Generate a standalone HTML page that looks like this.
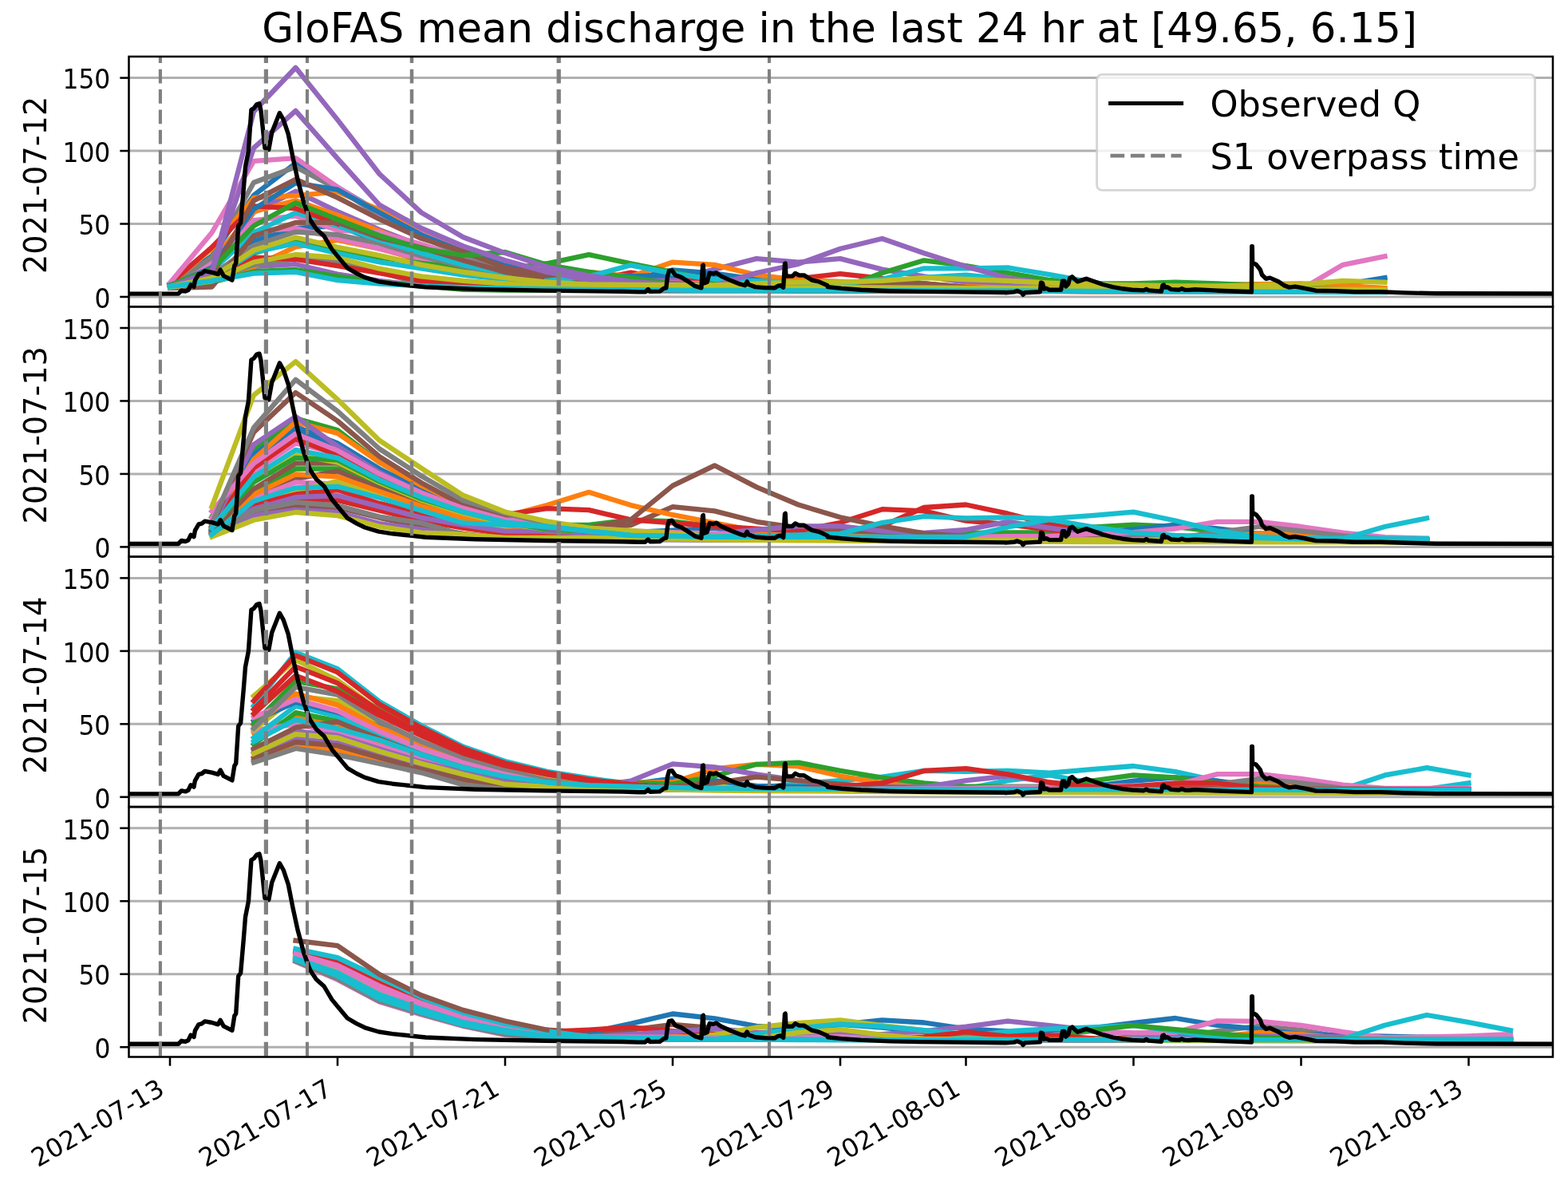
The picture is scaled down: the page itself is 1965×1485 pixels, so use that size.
<!DOCTYPE html>
<html lang="en"><head><meta charset="utf-8"><title>GloFAS mean discharge in the last 24 hr at [49.65, 6.15]</title>
<style>html,body{margin:0;padding:0;background:#fff}body{width:1965px;height:1485px;overflow:hidden}svg{display:block}text{font-family:"DejaVu Sans","Liberation Sans",sans-serif;fill:#000}</style>
</head><body>
<svg width="1965" height="1485" viewBox="0 0 1965 1485">
<rect width="1965" height="1485" fill="#fff"/>
<defs>
<clipPath id="cp0"><rect x="161.50" y="70.90" width="1784.50" height="313.40"/></clipPath>
<clipPath id="cp1"><rect x="161.50" y="384.30" width="1784.50" height="313.40"/></clipPath>
<clipPath id="cp2"><rect x="161.50" y="697.70" width="1784.50" height="313.40"/></clipPath>
<clipPath id="cp3"><rect x="161.50" y="1011.10" width="1784.50" height="313.40"/></clipPath>
</defs>
<g clip-path="url(#cp0)">
<g stroke="#b0b0b0" stroke-width="3">
<line x1="161.5" x2="1946" y1="372.00" y2="372.00"/>
<line x1="161.5" x2="1946" y1="280.53" y2="280.53"/>
<line x1="161.5" x2="1946" y1="189.07" y2="189.07"/>
<line x1="161.5" x2="1946" y1="97.60" y2="97.60"/>
</g>
<g fill="none" stroke-width="6.3" stroke-linejoin="round" stroke-linecap="square">
<polyline stroke="#d62728" points="423,280.5 475.5,298.8 528,315.3 580.5,329.9 633,340.9 685.5,348.2 738,351.9 790.5,341.5 843,350 895.5,352 948,353.7 1000.5,349.1 1053,343.1 1105.5,348.8 1158,355.5 1210.5,360 1263,362.8 1315.5,363.1 1368,363.4 1420.5,363.6 1473,363.7 1525.5,363.8 1578,363.9 1630.5,364 1683,364 1735.5,364.1"/>
<polyline stroke="#9467bd" points="213,360.1 265.5,350 318,334 370.5,331.2 423,343.5 475.5,351.9 528,358 580.5,361.9 633,363.4 685.5,363.6 738,363.7 790.5,363.9 843,364 895.5,364.1 948,364.2 1000.5,364.3 1053,364.4 1105.5,364.4 1158,364.6 1210.5,364.7 1263,364.8 1315.5,364.9 1368,365 1420.5,365.1 1473,365.2 1525.5,365.2 1578,365.3 1630.5,365.4 1683,365.5 1735.5,365.6"/>
<polyline stroke="#1f77b4" points="213,357.4 265.5,328.1 318,301.8 370.5,286 423,283.1 475.5,302.5 528,319 580.5,331.8 633,342.7 685.5,350 738,355.5 790.5,358.5 843,361.2 895.5,362.8 948,363.2 1000.5,363.5 1053,363.7 1105.5,363.8 1158,363.9 1210.5,364 1263,364.1 1315.5,364.2 1368,364.2 1420.5,364.3 1473,364.4 1525.5,364.4 1578,364.5 1630.5,364.6 1683,364.7 1735.5,364.8"/>
<polyline stroke="#ff7f0e" points="213,359.2 265.5,351.9 318,334.1 370.5,309.3 423,301 475.5,311.6 528,326.3 580.5,337.2 633,346.4 685.5,351.9 738,355.5 790.5,358.5 843,361.2 895.5,362.8 948,363.2 1000.5,363.5 1053,363.7 1105.5,363.8 1158,363.9 1210.5,364 1263,364.1 1315.5,364.2 1368,364.2 1420.5,364.3 1473,364.4 1525.5,364.4 1578,364.5 1630.5,364.6 1683,364.7 1735.5,364.8"/>
<polyline stroke="#2ca02c" points="213,360.1 265.5,353.7 318,340.2 370.5,338 423,346.4 475.5,353.7 528,358 580.5,362.8 633,363.7 685.5,363.8 738,363.9 790.5,364 843,364 895.5,364.1 948,364.2 1000.5,364.3 1053,364.4 1105.5,364.4 1158,364.6 1210.5,364.7 1263,364.8 1315.5,364.9 1368,365 1420.5,365.1 1473,365.2 1525.5,365.2 1578,365.3 1630.5,365.4 1683,365.5 1735.5,365.6"/>
<polyline stroke="#9467bd" points="213,359.2 265.5,339.1 318,265.9 370.5,239.7 423,265.2 475.5,287.9 528,308 580.5,324.4 633,337.2 685.5,346.4 738,347.7 790.5,348.9 843,350 895.5,337.6 948,324.1 1000.5,328.6 1053,324.1 1105.5,337.6 1158,346.4 1210.5,353.7 1263,358 1315.5,359.8 1368,361.2 1420.5,362.2 1473,362.9 1525.5,363.5 1578,363.7 1630.5,363.8 1683,364 1735.5,364.1"/>
<polyline stroke="#e377c2" points="213,355.5 265.5,324.4 318,289.9 370.5,286 423,298.8 475.5,311.6 528,324.4 580.5,335.4 633,344.6 685.5,351.9 738,355.5 790.5,358.5 843,361.2 895.5,362.8 948,363 1000.5,363.2 1053,363.3 1105.5,363.5 1158,363.5 1210.5,363.6 1263,363.7 1315.5,363.7 1368,363.8 1420.5,363.8 1473,363.9 1525.5,364 1578,364 1630.5,364 1683,364.1 1735.5,364.1"/>
<polyline stroke="#7f7f7f" points="213,359.2 265.5,350 318,331.8 370.5,324.4 423,327.7 475.5,340.9 528,355.5 580.5,360.9 633,362.8 685.5,363.4 738,363.6 790.5,363.8 843,364 895.5,364.1 948,364.2 1000.5,364.3 1053,364.4 1105.5,364.4 1158,364.6 1210.5,364.7 1263,364.8 1315.5,364.9 1368,365 1420.5,365.1 1473,365.2 1525.5,365.2 1578,365.3 1630.5,365.4 1683,365.5 1735.5,365.6"/>
<polyline stroke="#1f77b4" points="213,357.4 265.5,320.8 318,244.7 370.5,204.6 423,234.8 475.5,265.9 528,291.5 580.5,313.5 633,329.9 685.5,340.9 738,348.2 790.5,350.6 843,338.3 895.5,342.7 948,350 1000.5,352.4 1053,354.6 1105.5,356.5 1158,359.4 1210.5,361.5 1263,362.8 1315.5,363 1368,363.2 1420.5,363.3 1473,363.5 1525.5,363.5 1578,363.6 1630.5,363.7 1683,356.5 1735.5,348.2"/>
<polyline stroke="#ff7f0e" points="213,356.5 265.5,326.3 318,265.2 370.5,251.3 423,269.6 475.5,289.7 528,309.8 580.5,326.3 633,339.1 685.5,348.2 738,353.7 790.5,355.8 843,358.4 895.5,360.9 948,361.6 1000.5,362.2 1053,362.7 1105.5,363.1 1158,363.4 1210.5,363.6 1263,363.7 1315.5,363.7 1368,363.8 1420.5,363.8 1473,363.9 1525.5,364 1578,364 1630.5,364 1683,364.1 1735.5,364.1"/>
<polyline stroke="#2ca02c" points="213,358.3 265.5,346.4 318,317.1 370.5,302.5 423,313.5 475.5,322.6 528,329.9 580.5,335.4 633,337.2 685.5,330.3"/>
<polyline stroke="#d62728" points="213,359.2 265.5,346.4 318,322.6 370.5,325 423,333.2 475.5,342.2 528,351.9 580.5,356.5 633,360.9 685.5,362.8 738,363.7 790.5,363.8 843,364 895.5,364.1 948,364.2 1000.5,364.3 1053,364.4 1105.5,364.4 1158,364.6 1210.5,364.7 1263,364.8 1315.5,364.9 1368,365 1420.5,365.1 1473,365.2 1525.5,365.2 1578,365.3 1630.5,365.4 1683,365.5 1735.5,365.6"/>
<polyline stroke="#e377c2" points="213,355.5 265.5,328.8 318,276.1 370.5,270.7 423,288.6 475.5,291.5 528,306.1 580.5,322.6 633,335.4 685.5,344.6 738,351.9 790.5,353.2 843,354.4 895.5,355.5 948,355.5 1000.5,357.5 1053,359.8 1105.5,361.5 1158,362.7 1210.5,363.4 1263,363.7 1315.5,363.7 1368,363.8 1420.5,363.8 1473,363.9 1525.5,364 1578,364 1630.5,364 1683,364.1 1735.5,364.1"/>
<polyline stroke="#7f7f7f" points="213,357.4 265.5,322.6 318,228.8 370.5,209.2 423,236.6 475.5,269.6 528,297 580.5,319 633,335.4 685.5,346.4 738,353.7 790.5,355.8 843,358.4 895.5,360.9 948,361.6 1000.5,362.2 1053,362.7 1105.5,363.1 1158,363.4 1210.5,363.6 1263,363.7 1315.5,363.7 1368,363.8 1420.5,363.8 1473,363.9 1525.5,364 1578,364 1630.5,364 1683,364.1 1735.5,364.1"/>
<polyline stroke="#7f7f7f" points="213,358.3 265.5,344.6 318,308 370.5,290.6 423,294.1 475.5,305 528,320.8 580.5,333.6 633,344.6 685.5,351.9 738,355.5 790.5,358.5 843,361.2 895.5,362.8 948,363.2 1000.5,363.5 1053,363.7 1105.5,363.8 1158,363.9 1210.5,364 1263,364.1 1315.5,364.2 1368,364.2 1420.5,364.3 1473,364.4 1525.5,364.4 1578,364.5 1630.5,364.6 1683,364.7 1735.5,364.8"/>
<polyline stroke="#17becf" points="213,357.4 265.5,339.1 318,291.5 370.5,266.6 423,283.1 475.5,300.7 528,317.1 580.5,331.8 633,342.7 685.5,351.9"/>
<polyline stroke="#ff7f0e" points="213,355.5 265.5,311.6 318,248 370.5,245.2 423,240.3 475.5,263 528,291.5 580.5,312.9 633,329.9 685.5,339.1 738,340.9 790.5,346.4 843,328.6 895.5,331.9 948,344.6 1000.5,351 1053,353 1105.5,354.7 1158,356.4 1210.5,358.9 1263,360.9 1315.5,360.2 1368,359.5 1420.5,358.7 1473,357.7 1525.5,356.7 1578,356.1 1630.5,355.5 1683,358 1735.5,360.9"/>
<polyline stroke="#d62728" points="213,355.5 265.5,309.8 318,258.4 370.5,261.1 423,280.5"/>
<polyline stroke="#e377c2" points="213,354.6 265.5,291.5 318,201.9 370.5,198.2 423,234.3 475.5,267.7 528,293.3 580.5,315.3 633,331.8 685.5,342.7 738,350 790.5,352.8 843,355.2 895.5,358 948,359.6 1000.5,360.9 1053,361.8 1105.5,362.6 1158,363.2 1210.5,363.5 1263,363.7 1315.5,363.8 1368,363.8 1420.5,363.9 1473,364 1525.5,364.1 1578,364.1 1630.5,362.8 1683,331.8 1735.5,321.3"/>
<polyline stroke="#17becf" points="213,357.4 265.5,349 318,316 370.5,305 423,317.5 475.5,328.5 528,336.3 580.5,344.6 633,350 685.5,353.7 738,358 790.5,360.2 843,361.7 895.5,362.8 948,361.7 1000.5,360 1053,357.6 1105.5,355.5 1158,347.7 1210.5,344.6 1263,350 1315.5,355.2 1368,360.9 1420.5,363 1473,363.7 1525.5,364.1 1578,364.3 1630.5,364.4 1683,364.6 1735.5,364.8"/>
<polyline stroke="#1f77b4" points="213,358.3 265.5,335.4 318,262.2 370.5,229.3 423,237.7 475.5,266.4 528,294.3 580.5,315.3 633,332.9 685.5,342.7 738,346.4 790.5,345.8 843,345.2 895.5,344.6 948,353.7 1000.5,355.2 1053,356.6 1105.5,358.8 1158,360.6 1210.5,361.9 1263,362.8 1315.5,363.1 1368,363.4 1420.5,363.6 1473,363.7 1525.5,363.8 1578,363.9 1630.5,364 1683,364 1735.5,364.1"/>
<polyline stroke="#8c564b" points="213,359.2 265.5,344.6 318,251.4 370.5,224.7 423,247.6 475.5,274.7 528,298.8 580.5,315.3 633,335.4 685.5,344.6 738,350 790.5,352.8 843,355.2 895.5,358 948,357.4 1000.5,356.7 1053,356.3 1105.5,355.9 1158,355.5 1210.5,360 1263,362.8 1315.5,363.1 1368,363.4 1420.5,363.6 1473,363.7 1525.5,363.8 1578,363.9 1630.5,364 1683,364 1735.5,364.1"/>
<polyline stroke="#8c564b" points="213,361 265.5,359.6 318,295.5 370.5,278.9 423,278.9 475.5,297.9 528,310.2 580.5,326.3 633,340.9 685.5,350.6 738,355.5 790.5,358.5 843,361.2 895.5,362.8 948,361.9 1000.5,360.7 1053,359.1 1105.5,357 1158,355.5 1210.5,361.5 1263,363.7 1315.5,363.7 1368,363.8 1420.5,363.8 1473,363.9 1525.5,364 1578,364 1630.5,364 1683,364.1 1735.5,364.1"/>
<polyline stroke="#2ca02c" points="213,357.4 265.5,337.2 318,283.1 370.5,254.2 423,275 475.5,295.2 528,311.6 580.5,320 633,316 685.5,331.8 738,340.9 790.5,348.2 843,355.5 895.5,361.9 948,362.7 1000.5,363.2 1053,363.5 1105.5,363.7 1158,363.7 1210.5,363.7 1263,363.7 1315.5,363.7 1368,363.8 1420.5,363.8 1473,363.9 1525.5,364 1578,364 1630.5,364 1683,364.1 1735.5,364.1"/>
<polyline stroke="#2ca02c" points="685.5,330.3 738,319.1 790.5,330.3 843,340.9 895.5,351.9 948,358 1000.5,361.9 1053,361.9 1105.5,342 1158,326.3 1210.5,333 1263,342 1315.5,351 1368,355.5 1420.5,355.5 1473,353.7 1525.5,355.5 1578,358 1630.5,361.2 1683,363 1735.5,363.7"/>
<polyline stroke="#17becf" points="685.5,351.9 738,346.4 790.5,332.3 843,342.7 895.5,350 948,352.1 1000.5,353.9 1053,355.5 1105.5,350 1158,336.3 1210.5,336.3 1263,335.4 1315.5,344.2 1368,353.7 1420.5,360.9 1473,362.7 1525.5,363.5 1578,363.9 1630.5,364.2 1683,364.4 1735.5,364.8"/>
<polyline stroke="#9467bd" points="213,359.2 265.5,340.9 318,139.7 370.5,84.8 423,150.1 475.5,218 528,266.4 580.5,297.2 633,317.1 685.5,334.5 738,345.5 790.5,352.8 843,356.5 895.5,358.9 948,360.9 1000.5,361.7 1053,362.4 1105.5,362.9 1158,363.3 1210.5,363.5 1263,363.7 1315.5,363.7 1368,363.8 1420.5,363.8 1473,363.9 1525.5,364 1578,364 1630.5,364 1683,364.1 1735.5,364.1"/>
<polyline stroke="#9467bd" points="213,359.2 265.5,340 318,185.4 370.5,138.8 423,198.6 475.5,256.8 528,286 580.5,308.5 633,326.3 685.5,340.9 738,351 790.5,355.5 843,356.5 895.5,358 948,342 1000.5,330.8 1053,311.8 1105.5,299 1158,317.3 1210.5,334.1 1263,348.2 1315.5,355.5 1368,357.6 1420.5,360 1473,361.7 1525.5,362.8 1578,363.5 1630.5,363.7 1683,363.9 1735.5,364.1"/>
<polyline stroke="#bcbd22" points="213,359.2 265.5,348.2 318,313.5 370.5,297.5 423,309.8 475.5,320.2 528,331.8 580.5,340.9 633,348.2 685.5,353.7 738,356.5 790.5,356.8 843,357.1 895.5,357.4 948,355.5 1000.5,353.7 1053,353.7 1105.5,351.9 1158,348.2 1210.5,350 1263,351.9 1315.5,354.6 1368,356.5 1420.5,357.4 1473,358.3 1525.5,358.3 1578,357.4 1630.5,356.5 1683,351.9 1735.5,353.7"/>
<polyline stroke="#bcbd22" points="213,360.1 265.5,352.4 318,328.5 370.5,319 423,323 475.5,336.7 528,346.4 580.5,351.9 633,355.5 685.5,358.3 738,360.1 790.5,360.4 843,360.7 895.5,361 948,360.7 1000.5,360.4 1053,360.1 1105.5,360.3 1158,360.6 1210.5,360.8 1263,361 1315.5,361.3 1368,361.5 1420.5,361.7 1473,361.9 1525.5,362.1 1578,362.3 1630.5,362.5 1683,362.7 1735.5,362.9"/>
<polyline stroke="#17becf" points="213,359.2 265.5,351.9 318,342.7 370.5,340.9 423,351.1 475.5,355.5 528,358.3 580.5,360.1 633,361.4 685.5,362.1 738,362.9 790.5,363.2 843,363.6 895.5,364 948,364 1000.5,364.1 1053,364.1 1105.5,364.2 1158,364.2 1210.5,364.3 1263,364.3 1315.5,364.6 1368,364.9 1420.5,365.2 1473,365.4 1525.5,365.6 1578,365.7 1630.5,365.9 1683,366 1735.5,366.1"/>
</g>
<polyline fill="none" stroke="#000" stroke-width="5.4" stroke-linejoin="round" stroke-linecap="square" points="150,368.1 223.5,368.1 227.4,364.1 232.3,365.1 236,363.5 239.1,356.9 243,359.3 244.4,351.5 248.9,343.6 252.8,342.7 256.7,339.7 265.5,341.3 273.3,343.6 276.2,338.2 280.1,345.6 290.9,351.1 293.8,332.9 295.7,330 298.7,283.1 301.6,279.2 305.5,234.3 307.5,208.9 311.4,189.3 314.9,137.6 318.2,135.6 321.7,130.8 325,129.8 327,138.5 331.9,185.4 336.8,187.4 340.7,165.9 350.4,141.5 355.3,150.3 361.2,167.9 367,197.2 372.9,224.5 380.7,253.8 388.5,275.3 396.3,287 406.1,295.8 415.9,312.4 425.6,324.1 435.4,335.8 447.1,342.7 457.3,347.6 474.6,352.8 491.9,355.4 516.1,358 533.4,359.8 595.7,362.4 682.3,364.1 780,365.3 800,365.9 808.5,365.9 812.2,362.6 814.7,365.4 826.9,365.1 831.8,361.4 834.8,360.8 836.6,346.1 838.5,339.4 842.1,338.8 846.4,344.9 853.7,347.4 863.5,353.5 870.8,358.4 878.9,360.8 880.6,332.7 881.3,332.2 882.2,354.9 886.1,353.5 889.2,342.2 894,343.1 897.7,341.9 903.8,346.1 916,351.6 927,355.9 933.7,357.7 936.2,352.9 938,356.5 946.6,359.6 958.8,360.6 971,360.8 974.7,358.4 978.3,357.7 981.7,360.2 983.5,330.5 984.2,330 985,346.1 993,346.1 996.6,342.5 1001.5,344.9 1007.6,344.9 1017.4,351 1026,352.9 1036.9,357.7 1037.3,359.6 1054.4,361.4 1078.9,363.2 1115.5,364.7 1152.1,365.4 1201,365.9 1259.6,366.5 1260,366.7 1271,365.9 1274.7,364.5 1280.2,366.7 1282,369.3 1284.4,366.7 1303.4,365.7 1304.6,354.1 1306.4,354.7 1308.2,362 1311.3,361.4 1315,363.2 1329.6,363.2 1331.5,352.2 1333.9,352.2 1335.7,359 1338.8,355.9 1340.6,348.6 1343.7,346.8 1346.7,349.8 1350.4,352.9 1357.7,350.4 1361.4,349.2 1366.3,351 1382.1,356.5 1394.4,359.6 1406.6,361.8 1418.8,363.2 1433.4,363.9 1436.5,362.3 1439.5,363.9 1455.4,365.1 1456.9,357.7 1458.5,357.1 1460.3,360.2 1462.7,359.6 1467.6,362.6 1477.4,363.2 1481.1,361.8 1484.7,363.2 1489.6,363.4 1490,363.4 1497.3,362.8 1526.6,364.2 1568.4,365.8 1568.8,308.6 1569.3,308.6 1569.6,328.8 1574.3,331.6 1579.2,337.7 1581.6,344.5 1586.5,349.3 1591.4,348.1 1602.4,353 1609.7,357.9 1615.8,360.1 1623.1,359.1 1636.6,361.6 1648.8,364.2 1673.2,364.6 1697.6,365.8 1730,365.8 1760,366.9 1800,367.8 1960,368.1"/>
<g stroke="#808080" stroke-dasharray="17.7 7.65" stroke-dashoffset="-1">
<line x1="200.9" x2="200.9" y1="384.30" y2="70.90" stroke-width="4.1"/>
<line x1="333.4" x2="333.4" y1="384.30" y2="70.90" stroke-width="5.2"/>
<line x1="385" x2="385" y1="384.30" y2="70.90" stroke-width="4.1"/>
<line x1="516" x2="516" y1="384.30" y2="70.90" stroke-width="4.5"/>
<line x1="700.2" x2="700.2" y1="384.30" y2="70.90" stroke-width="5.3"/>
<line x1="964" x2="964" y1="384.30" y2="70.90" stroke-width="4.1"/>
</g>
</g>
<rect x="161.5" y="70.90" width="1784.5" height="313.40" fill="none" stroke="#000" stroke-width="2.55"/>
<g stroke="#000" stroke-width="2.55">
<line x1="150.3" x2="161.5" y1="372.00" y2="372.00"/>
<line x1="150.3" x2="161.5" y1="280.53" y2="280.53"/>
<line x1="150.3" x2="161.5" y1="189.07" y2="189.07"/>
<line x1="150.3" x2="161.5" y1="97.60" y2="97.60"/>
</g>
<g font-size="31.9" text-anchor="end">
<text transform="translate(138.3 385.70) scale(0.982 1.065)">0</text>
<text transform="translate(138.3 294.23) scale(0.982 1.065)">50</text>
<text transform="translate(138.3 202.77) scale(0.982 1.065)">100</text>
<text transform="translate(138.3 111.30) scale(0.982 1.065)">150</text>
</g>
<text font-size="38.25" text-anchor="middle" transform="translate(57.6 231.90) rotate(-90)">2021-07-12</text>
<g clip-path="url(#cp1)">
<g stroke="#b0b0b0" stroke-width="3">
<line x1="161.5" x2="1946" y1="685.40" y2="685.40"/>
<line x1="161.5" x2="1946" y1="593.93" y2="593.93"/>
<line x1="161.5" x2="1946" y1="502.47" y2="502.47"/>
<line x1="161.5" x2="1946" y1="411.00" y2="411.00"/>
</g>
<g fill="none" stroke-width="6.3" stroke-linejoin="round" stroke-linecap="square">
<polyline stroke="#8c564b" points="265.5,670.8 318,643.3 370.5,634.2 423,636 475.5,648.8 528,659.8 580.5,668.9 633,674.4 685.5,675.2 738,675.7 790.5,675.9 843,676.1 895.5,676.3 948,676.3 1000.5,676.4 1053,676.5 1105.5,676.5 1158,676.6 1210.5,676.7 1263,676.7 1315.5,676.8 1368,676.8 1420.5,676.9 1473,676.9 1525.5,677 1578,677 1630.5,677.1 1683,677.1 1735.5,677.2 1788,677.3"/>
<polyline stroke="#2ca02c" points="265.5,663.4 318,615.9 370.5,587.5 423,587.5 475.5,609.8 528,630.5 580.5,645.2 633,656.1 685.5,663.4 738,666.2 790.5,668.6 843,672.1 895.5,674.4 948,675 1000.5,675.4 1053,675.7 1105.5,675.9 1158,676 1210.5,676.1 1263,676.3 1315.5,676.3 1368,676.3 1420.5,676.4 1473,676.5 1525.5,676.5 1578,676.5 1630.5,676.6 1683,676.6 1735.5,676.7 1788,676.7"/>
<polyline stroke="#d62728" points="265.5,668.9 318,639.7 370.5,625.9 423,626.9 475.5,639.7 528,652.5 580.5,661.6 633,668.9 685.5,671.3 738,673 790.5,674.3 843,675.2 895.5,675.8 948,673.5 1000.5,668.5 1053,664.5 1105.5,659.4 1158,636 1210.5,632.5 1263,643.7 1315.5,657.2 1368,665.3 1420.5,672.1 1473,673.9 1525.5,675.1 1578,675.8 1630.5,676.1 1683,676.3 1735.5,676.5 1788,676.7"/>
<polyline stroke="#9467bd" points="265.5,670.8 318,646.1 370.5,638.8 423,642 475.5,656.1 528,663.4 580.5,672.1 633,675.2 685.5,675.6 738,675.9 790.5,676 843,676.1 895.5,676.3 948,676.3 1000.5,676.4 1053,676.5 1105.5,676.5 1158,676.6 1210.5,676.7 1263,676.7 1315.5,676.8 1368,676.8 1420.5,676.9 1473,676.9 1525.5,677 1578,677 1630.5,677.1 1683,677.1 1735.5,677.2 1788,677.3"/>
<polyline stroke="#8c564b" points="265.5,667.1 318,623.2 370.5,600.2 423,590.3 475.5,612.2 528,632.4 580.5,647 633,658 685.5,665.3 738,667.4 790.5,669.7 843,672.6 895.5,674.4 948,675 1000.5,675.4 1053,675.7 1105.5,675.9 1158,676 1210.5,676.1 1263,676.3 1315.5,676.3 1368,676.3 1420.5,676.4 1473,676.5 1525.5,676.5 1578,676.5 1630.5,676.6 1683,676.6 1735.5,676.7 1788,676.7"/>
<polyline stroke="#e377c2" points="265.5,665.3 318,625 370.5,604.4 423,606.7 475.5,623.2 528,639.7 580.5,652.5 633,661.6 685.5,667.1 738,668.7 790.5,671.1 843,673 895.5,674.4 948,675 1000.5,675.4 1053,675.7 1105.5,675.9 1158,676 1210.5,676.1 1263,676.3 1315.5,676.3 1368,676.3 1420.5,676.4 1473,676.5 1525.5,676.5 1578,676.5 1630.5,676.6 1683,676.6 1735.5,676.7 1788,676.7"/>
<polyline stroke="#bcbd22" points="265.5,668.9 318,634.9 370.5,615.9 423,603.1 475.5,618.6 528,636 580.5,650.6 633,659.8 685.5,667.1 738,669.6 790.5,672.8 843,674.7 895.5,675.8 948,675.9 1000.5,676 1053,676.1 1105.5,676.2 1158,676.3 1210.5,676.4 1263,676.5 1315.5,676.5 1368,676.6 1420.5,676.6 1473,676.7 1525.5,676.7 1578,676.8 1630.5,676.9 1683,677.1 1735.5,677.2 1788,677.3"/>
<polyline stroke="#1f77b4" points="265.5,663.4 318,575.6 370.5,540.9 423,561 475.5,592.1 528,617.7 580.5,637.8 633,652.5 685.5,661.6 738,667.1 790.5,669.4 843,672.4 895.5,674.4 948,675 1000.5,675.4 1053,675.7 1105.5,675.9 1158,676 1210.5,676.1 1263,676.3 1315.5,676.3 1368,676.3 1420.5,676.4 1473,676.5 1525.5,676.5 1578,676.5 1630.5,676.6 1683,676.6 1735.5,676.7 1788,676.7"/>
<polyline stroke="#ff7f0e" points="265.5,667.1 318,619.5 370.5,594.5 423,597.4 475.5,615.9 528,634.2 580.5,648.8 633,658 685.5,665.3 738,667.4 790.5,669.7 843,672.6 895.5,674.4 948,675 1000.5,675.4 1053,675.7 1105.5,675.9 1158,676 1210.5,676.1 1263,676.3 1315.5,676.3 1368,676.3 1420.5,676.4 1473,676.5 1525.5,676.5 1578,676.5 1630.5,676.6 1683,676.6 1735.5,676.7 1788,676.7"/>
<polyline stroke="#2ca02c" points="265.5,647.5 318,564.7 370.5,524.4 423,539.1 475.5,579.3 528,608.6 580.5,632.4 633,648.8 685.5,658 738,658 790.5,651.4 843,653.4 895.5,659.8 948,663.3 1000.5,666.3 1053,668.9 1105.5,668.6 1158,668.2 1210.5,667.9 1263,667.5 1315.5,667.1 1368,660.7 1420.5,657.6 1473,660 1525.5,666.4 1578,668.9 1630.5,673.7 1683,675.8 1735.5,676.3 1788,676.7"/>
<polyline stroke="#d62728" points="265.5,668.9 318,632.4 370.5,619.5 423,614.1 475.5,630.9 528,643.3 580.5,659.8 633,667.1 685.5,672.1 738,673.5 790.5,674.6 843,675.3 895.5,675.8 948,675.9 1000.5,675.9 1053,676 1105.5,676.1 1158,676.1 1210.5,676.2 1263,676.3 1315.5,676.3 1368,676.3 1420.5,676.4 1473,676.5 1525.5,676.5 1578,676.5 1630.5,676.6 1683,676.6 1735.5,676.7 1788,676.7"/>
<polyline stroke="#9467bd" points="265.5,667.1 318,637.8 370.5,623.2 423,621 475.5,634.9 528,648.8 580.5,658 633,665.6 685.5,665.6 738,668.9 790.5,672.5 843,674.7 895.5,675.8 948,675.9 1000.5,675.9 1053,676 1105.5,676.1 1158,676.1 1210.5,676.2 1263,676.3 1315.5,676.3 1368,676.3 1420.5,676.4 1473,676.5 1525.5,676.5 1578,676.5 1630.5,676.6 1683,676.6 1735.5,676.7 1788,676.7"/>
<polyline stroke="#8c564b" points="265.5,665.3 318,612.6 370.5,580.6 423,580.6 475.5,604.9 528,625 580.5,641.5 633,654.3 685.5,661.6 738,663.4 790.5,658 843,635.1 895.5,640.4 948,653.8 1000.5,661.6 1053,664 1105.5,667.1 1158,670.9 1210.5,674.2 1263,675.8 1315.5,675.9 1368,676 1420.5,676.1 1473,676.2 1525.5,676.3 1578,676.4 1630.5,676.5 1683,676.6 1735.5,676.6 1788,676.7"/>
<polyline stroke="#e377c2" points="265.5,648.8 318,590.3 370.5,555.5 423,568.1 475.5,595.8 528,619.5 580.5,637.8 633,652.5 685.5,659.8 738,665.3 790.5,667.3 843,669.3 895.5,672.1 948,673 1000.5,673.7 1053,674.3 1105.5,674.8 1158,675.2 1210.5,675.5 1263,675.8 1315.5,675.9 1368,675.9 1420.5,675.9 1473,676 1525.5,676 1578,676.1 1630.5,676.1 1683,676.2 1735.5,676.2 1788,676.3"/>
<polyline stroke="#7f7f7f" points="265.5,668.9 318,639.9 370.5,629.4 423,633.6 475.5,647.5 528,655.4 580.5,670.3 633,674.4 685.5,675.2 738,675.7 790.5,675.9 843,676.1 895.5,676.3 948,676.3 1000.5,676.4 1053,676.5 1105.5,676.5 1158,676.6 1210.5,676.7 1263,676.7 1315.5,676.8 1368,676.8 1420.5,676.9 1473,676.9 1525.5,677 1578,677 1630.5,677.1 1683,677.1 1735.5,677.2 1788,677.3"/>
<polyline stroke="#bcbd22" points="265.5,661.6 318,601.3 370.5,570.2 423,579.3 475.5,604.9 528,626.9 580.5,643.3 633,656.1 685.5,663.4 738,666.2 790.5,668.6 843,672.1 895.5,674.4 948,675 1000.5,675.4 1053,675.7 1105.5,675.9 1158,676 1210.5,676.1 1263,676.3 1315.5,676.3 1368,676.4 1420.5,676.5 1473,676.6 1525.5,676.6 1578,676.7 1630.5,676.8 1683,677 1735.5,677.1 1788,677.3"/>
<polyline stroke="#1f77b4" points="265.5,663.4 318,569.2 370.5,534.7 423,555.5 475.5,587.5 528,614.1 580.5,636 633,650.6 685.5,659.8 738,665.3 790.5,667.1 843,664.7 895.5,661.6 948,667.1 1000.5,668.6 1053,670.9 1105.5,672.8 1158,674.2 1210.5,675.2 1263,675.8 1315.5,673.3 1368,668 1420.5,663.4 1473,657.6 1525.5,662.5 1578,668.9 1630.5,673.7 1683,675.8 1735.5,676.3 1788,676.7"/>
<polyline stroke="#ff7f0e" points="265.5,661.6 318,575.6 370.5,529 423,542.9 475.5,579.3 528,608.6 580.5,632.4 633,647 685.5,633.1 738,616.8 790.5,633.1 843,645.2 895.5,655.4 948,665.3 1000.5,668.9 1053,671.3 1105.5,673 1158,674.3 1210.5,675.2 1263,675.8 1315.5,675.4 1368,674.9 1420.5,674.2 1473,673.3 1525.5,672.1 1578,668.2 1630.5,668.2 1683,674.4 1735.5,676.1 1788,676.7"/>
<polyline stroke="#2ca02c" points="265.5,659.8 318,604.4 370.5,573.8 423,576.4 475.5,603.1 528,625 580.5,641.5 633,654.3 685.5,663.4 738,666.2 790.5,668.6 843,672.1 895.5,674.4 948,675 1000.5,675.4 1053,675.7 1105.5,675.9 1158,676 1210.5,676.1 1263,676.3 1315.5,676.3 1368,676.3 1420.5,676.4 1473,676.5 1525.5,676.5 1578,676.5 1630.5,676.6 1683,676.6 1735.5,676.7 1788,676.7"/>
<polyline stroke="#d62728" points="265.5,659.8 318,586.3 370.5,550 423,570.2 475.5,599.4 528,623.2 580.5,639.7 633,645.2 685.5,637.1 738,639.1 790.5,651.4 843,655.4 895.5,659.4 948,662.7 1000.5,665.3 1053,655 1105.5,638.2 1158,640.4 1210.5,652.7 1263,657.2 1315.5,664 1368,668.9 1420.5,671.8 1473,673.7 1525.5,675 1578,675.8 1630.5,676.1 1683,676.3 1735.5,676.5 1788,676.7"/>
<polyline stroke="#9467bd" points="265.5,659.8 318,557 370.5,522 423,559.2 475.5,592.1 528,617.7 580.5,637.8 633,652.5 685.5,661.6 738,665.6 790.5,666.8 843,667.9 895.5,668.9 948,664 1000.5,659.4 1053,659.4 1105.5,665.3 1158,668 1210.5,664 1263,653.8 1315.5,661.6 1368,668.9 1420.5,671.8 1473,673.7 1525.5,675 1578,675.8 1630.5,676.1 1683,676.3 1735.5,676.5 1788,676.7"/>
<polyline stroke="#8c564b" points="265.5,658 318,541.6 370.5,492 423,527.5 475.5,572.2 528,604.9 580.5,633.1 633,648.8 685.5,658 738,661.6 790.5,651.4 843,608.6 895.5,583.3 948,610.4 1000.5,632.5 1053,648.3 1105.5,659.4 1158,668.4 1210.5,672.1 1263,673.4 1315.5,674.4 1368,675.1 1420.5,675.6 1473,675.9 1525.5,676 1578,676.2 1630.5,676.3 1683,676.5 1735.5,676.6 1788,676.7"/>
<polyline stroke="#e377c2" points="265.5,640.6 318,580.6 370.5,543.6 423,564.7 475.5,593.9 528,617.7 580.5,636.9 633,651.4 685.5,655.4 738,661.6 790.5,665.3 843,667.1 895.5,668.7 948,671.1 1000.5,673 1053,674.4 1105.5,674 1158,673.4 1210.5,672.8 1263,672.1 1315.5,672.1 1368,669.1 1420.5,667.1 1473,662.5 1525.5,653.8 1578,653.8 1630.5,660 1683,667.7 1735.5,673.2 1788,674.6"/>
<polyline stroke="#7f7f7f" points="265.5,656.1 318,535.9 370.5,475.8 423,515.3 475.5,562.5 528,596.5 580.5,626.9 633,643.3 685.5,656.1 738,663.4 790.5,666.2 843,668.6 895.5,672.1 948,673.4 1000.5,674.4 1053,675.2 1105.5,675.7 1158,675.9 1210.5,676.1 1263,676.3 1315.5,676.1 1368,675.8 1420.5,675.3 1473,674.4 1525.5,667.1 1578,660 1630.5,665.3 1683,671.3 1735.5,675.3 1788,676.3"/>
<polyline stroke="#bcbd22" points="265.5,634.9 318,495.2 370.5,453.1 423,500.6 475.5,551.9 528,586.6 580.5,620.8 633,641.5 685.5,653.4 738,661.6 790.5,665.2 843,668.2 895.5,672.1 948,673.4 1000.5,674.4 1053,675.2 1105.5,675.7 1158,675.9 1210.5,676.1 1263,676.3 1315.5,676.3 1368,676.4 1420.5,676.5 1473,676.6 1525.5,676.7 1578,676.7 1630.5,676.9 1683,677.1 1735.5,677.2 1788,677.4"/>
<polyline stroke="#bcbd22" points="265.5,672.6 318,651.7 370.5,642 423,646.1 475.5,659.8 528,667.7 580.5,669.7 633,673.9 685.5,673.9 738,673.9 790.5,674.7 843,675.5 895.5,676.3 948,676.8 1000.5,677.3 1053,677.7 1105.5,678 1158,678.3 1210.5,678.6 1263,678.8 1315.5,678.9 1368,679 1420.5,679 1473,679.1 1525.5,679.2 1578,679.3 1630.5,679.3 1683,679.4 1735.5,679.5 1788,679.5"/>
<polyline stroke="#17becf" points="265.5,661.6 318,597.4 370.5,563.9 423,573.8 475.5,601.3 528,623.2 580.5,641.5 633,654.3 685.5,659.8 738,665.6 790.5,670.8 843,671.7 895.5,672.6 948,671.5 1000.5,670.3 1053,668.9 1105.5,655 1158,647.2 1210.5,649.4 1263,648.3 1315.5,649.9 1368,646.1 1420.5,641.7 1473,652.5 1525.5,665.3 1578,672.6 1630.5,674.4 1683,674.7 1735.5,674.9 1788,675.2"/>
<polyline stroke="#17becf" points="265.5,669.9 318,628 370.5,611.3 423,609.8 475.5,623.8 528,639.7 580.5,655.4 633,657.6 685.5,659.8 738,665.6 790.5,670.8 843,671.8 895.5,672.8 948,672.8 1000.5,672.8 1053,672.8 1105.5,672.8 1158,672.8 1210.5,672.8 1263,660.5 1315.5,651.2 1368,660 1420.5,667.7 1473,670.8 1525.5,672.5 1578,674 1630.5,675.3 1683,675.3 1735.5,660 1788,649.4"/>
</g>
<polyline fill="none" stroke="#000" stroke-width="5.4" stroke-linejoin="round" stroke-linecap="square" points="150,681.5 223.5,681.5 227.4,677.5 232.3,678.5 236,676.9 239.1,670.3 243,672.7 244.4,664.9 248.9,657 252.8,656.1 256.7,653.1 265.5,654.7 273.3,657 276.2,651.6 280.1,659 290.9,664.5 293.8,646.3 295.7,643.4 298.7,596.5 301.6,592.6 305.5,547.7 307.5,522.3 311.4,502.7 314.9,451 318.2,449 321.7,444.2 325,443.2 327,451.9 331.9,498.8 336.8,500.8 340.7,479.3 350.4,454.9 355.3,463.7 361.2,481.3 367,510.6 372.9,537.9 380.7,567.2 388.5,588.7 396.3,600.4 406.1,609.2 415.9,625.8 425.6,637.5 435.4,649.2 447.1,656.1 457.3,661 474.6,666.2 491.9,668.8 516.1,671.4 533.4,673.2 595.7,675.8 682.3,677.5 780,678.7 800,679.3 808.5,679.3 812.2,676 814.7,678.8 826.9,678.5 831.8,674.8 834.8,674.2 836.6,659.5 838.5,652.8 842.1,652.2 846.4,658.3 853.7,660.8 863.5,666.9 870.8,671.8 878.9,674.2 880.6,646.1 881.3,645.6 882.2,668.3 886.1,666.9 889.2,655.6 894,656.5 897.7,655.3 903.8,659.5 916,665 927,669.3 933.7,671.1 936.2,666.3 938,669.9 946.6,673 958.8,674 971,674.2 974.7,671.8 978.3,671.1 981.7,673.6 983.5,643.9 984.2,643.4 985,659.5 993,659.5 996.6,655.9 1001.5,658.3 1007.6,658.3 1017.4,664.4 1026,666.3 1036.9,671.1 1037.3,673 1054.4,674.8 1078.9,676.6 1115.5,678.1 1152.1,678.8 1201,679.3 1259.6,679.9 1260,680.1 1271,679.3 1274.7,677.9 1280.2,680.1 1282,682.7 1284.4,680.1 1303.4,679.1 1304.6,667.5 1306.4,668.1 1308.2,675.4 1311.3,674.8 1315,676.6 1329.6,676.6 1331.5,665.6 1333.9,665.6 1335.7,672.4 1338.8,669.3 1340.6,662 1343.7,660.2 1346.7,663.2 1350.4,666.3 1357.7,663.8 1361.4,662.6 1366.3,664.4 1382.1,669.9 1394.4,673 1406.6,675.2 1418.8,676.6 1433.4,677.3 1436.5,675.7 1439.5,677.3 1455.4,678.5 1456.9,671.1 1458.5,670.5 1460.3,673.6 1462.7,673 1467.6,676 1477.4,676.6 1481.1,675.2 1484.7,676.6 1489.6,676.8 1490,676.8 1497.3,676.2 1526.6,677.6 1568.4,679.2 1568.8,622 1569.3,622 1569.6,642.2 1574.3,645 1579.2,651.1 1581.6,657.9 1586.5,662.7 1591.4,661.5 1602.4,666.4 1609.7,671.3 1615.8,673.5 1623.1,672.5 1636.6,675 1648.8,677.6 1673.2,678 1697.6,679.2 1730,679.2 1760,680.3 1800,681.2 1960,681.5"/>
<g stroke="#808080" stroke-dasharray="17.7 7.65" stroke-dashoffset="-1">
<line x1="200.9" x2="200.9" y1="697.70" y2="384.30" stroke-width="4.1"/>
<line x1="333.4" x2="333.4" y1="697.70" y2="384.30" stroke-width="5.2"/>
<line x1="385" x2="385" y1="697.70" y2="384.30" stroke-width="4.1"/>
<line x1="516" x2="516" y1="697.70" y2="384.30" stroke-width="4.5"/>
<line x1="700.2" x2="700.2" y1="697.70" y2="384.30" stroke-width="5.3"/>
<line x1="964" x2="964" y1="697.70" y2="384.30" stroke-width="4.1"/>
</g>
</g>
<rect x="161.5" y="384.30" width="1784.5" height="313.40" fill="none" stroke="#000" stroke-width="2.55"/>
<g stroke="#000" stroke-width="2.55">
<line x1="150.3" x2="161.5" y1="685.40" y2="685.40"/>
<line x1="150.3" x2="161.5" y1="593.93" y2="593.93"/>
<line x1="150.3" x2="161.5" y1="502.47" y2="502.47"/>
<line x1="150.3" x2="161.5" y1="411.00" y2="411.00"/>
</g>
<g font-size="31.9" text-anchor="end">
<text transform="translate(138.3 699.10) scale(0.982 1.065)">0</text>
<text transform="translate(138.3 607.63) scale(0.982 1.065)">50</text>
<text transform="translate(138.3 516.17) scale(0.982 1.065)">100</text>
<text transform="translate(138.3 424.70) scale(0.982 1.065)">150</text>
</g>
<text font-size="38.25" text-anchor="middle" transform="translate(57.6 545.30) rotate(-90)">2021-07-13</text>
<g clip-path="url(#cp2)">
<g stroke="#b0b0b0" stroke-width="3">
<line x1="161.5" x2="1946" y1="998.80" y2="998.80"/>
<line x1="161.5" x2="1946" y1="907.33" y2="907.33"/>
<line x1="161.5" x2="1946" y1="815.87" y2="815.87"/>
<line x1="161.5" x2="1946" y1="724.40" y2="724.40"/>
</g>
<g fill="none" stroke-width="6.3" stroke-linejoin="round" stroke-linecap="square">
<polyline stroke="#ff7f0e" points="318,953.1 370.5,934.8 423,940.3 475.5,953.1 528,965.9 580.5,978.7 633,986.9 685.5,988.9 738,989 790.5,989.2 843,989.3 895.5,989.4 948,989.5 1000.5,989.5 1053,989.6 1105.5,989.7 1158,989.7 1210.5,989.8 1263,989.9 1315.5,990.1 1368,990.2 1420.5,990.3 1473,990.5 1525.5,990.6 1578,990.7 1630.5,990.9 1683,991 1735.5,991.2 1788,991.3 1840.5,991.5"/>
<polyline stroke="#ff7f0e" points="318,918.3 370.5,899.1 423,909.2 475.5,929.3 528,947.6 580.5,962.2 633,973.2 685.5,980.5 738,985.7 790.5,987.3 843,988.4 895.5,988.9 948,989 1000.5,989.1 1053,989.1 1105.5,989.2 1158,989.3 1210.5,989.3 1263,989.4 1315.5,989.4 1368,989.5 1420.5,989.5 1473,989.6 1525.5,989.6 1578,989.6 1630.5,989.7 1683,989.7 1735.5,989.8 1788,989.9 1840.5,989.9"/>
<polyline stroke="#2ca02c" points="318,932.9 370.5,893.2 423,903.7 475.5,923.8 528,943.9 580.5,960.4 633,971.4 685.5,980.5 738,985.7 790.5,987.3 843,988.4 895.5,988.9 948,989 1000.5,989.1 1053,989.1 1105.5,989.2 1158,989.3 1210.5,989.3 1263,989.4 1315.5,989.4 1368,989.5 1420.5,989.5 1473,989.6 1525.5,989.6 1578,989.6 1630.5,989.7 1683,989.7 1735.5,989.8 1788,989.9 1840.5,989.9"/>
<polyline stroke="#9467bd" points="318,943.9 370.5,925.6 423,931.1 475.5,947.6 528,962.2 580.5,973.2 633,982.7 685.5,987.8 738,988.6 790.5,989 843,989.2 895.5,989.4 948,989.5 1000.5,989.5 1053,989.6 1105.5,989.7 1158,989.7 1210.5,989.8 1263,989.9 1315.5,990.1 1368,990.2 1420.5,990.3 1473,990.5 1525.5,990.6 1578,990.7 1630.5,990.9 1683,991 1735.5,991.2 1788,991.3 1840.5,991.5"/>
<polyline stroke="#8c564b" points="318,950 370.5,930 423,934.4 475.5,949.4 528,964 580.5,976.8 633,985.7 685.5,988.5 738,988.9 790.5,989 843,989.2 895.5,989.4 948,989.5 1000.5,989.5 1053,989.6 1105.5,989.7 1158,989.7 1210.5,989.8 1263,989.9 1315.5,990.1 1368,990.2 1420.5,990.3 1473,990.5 1525.5,990.6 1578,990.7 1630.5,990.9 1683,991 1735.5,991.2 1788,991.3 1840.5,991.5"/>
<polyline stroke="#e377c2" points="318,915.9 370.5,907.3 423,918.3 475.5,934.8 528,951.2 580.5,965.9 633,975 685.5,982.7 738,987.8 790.5,988.3 843,988.7 895.5,988.9 948,989 1000.5,989.1 1053,989.1 1105.5,989.2 1158,989.3 1210.5,989.3 1263,989.4 1315.5,989.4 1368,989.5 1420.5,989.5 1473,989.6 1525.5,989.6 1578,989.6 1630.5,989.7 1683,989.7 1735.5,989.8 1788,989.9 1840.5,989.9"/>
<polyline stroke="#7f7f7f" points="318,955.6 370.5,937.9 423,945.8 475.5,956.9 528,968.3 580.5,983.4 633,989.1 685.5,989.4 738,989.5 790.5,989.6 843,989.7 895.5,989.9 948,990 1000.5,990.1 1053,990.2 1105.5,990.3 1158,990.4 1210.5,990.5 1263,990.6 1315.5,990.7 1368,990.8 1420.5,990.8 1473,990.9 1525.5,991 1578,991.1 1630.5,991.2 1683,991.2 1735.5,991.3 1788,991.4 1840.5,991.5"/>
<polyline stroke="#bcbd22" points="318,914.7 370.5,872.6 423,878.1 475.5,907.3 528,931.1 580.5,951.2 633,965.9 685.5,975 738,980.5 790.5,985.7 843,981.8 895.5,985.7 948,986.9 1000.5,987.8 1053,988.5 1105.5,988.9 1158,989 1210.5,989.2 1263,989.4 1315.5,989.5 1368,989.6 1420.5,989.7 1473,989.8 1525.5,990 1578,990.2 1630.5,990.4 1683,990.7 1735.5,991 1788,991.2 1840.5,991.5"/>
<polyline stroke="#17becf" points="318,884.5 370.5,817.7 423,838.2 475.5,879.2 528,909.2 580.5,935.7 633,954 685.5,966.8 738,975 790.5,982.7 843,987.2 895.5,988.9 948,987.1 1000.5,982.2 1053,978.1 1105.5,973.6 1158,965.9 1210.5,966.8 1263,965.9 1315.5,968.6 1368,964.2 1420.5,960 1473,967.2 1525.5,978.7 1578,987.8 1630.5,988.8 1683,989.1 1735.5,971.4 1788,962.2 1840.5,971.4"/>
<polyline stroke="#17becf" points="318,924.5 370.5,884.8 423,897.6 475.5,922 528,940.3 580.5,960.4 633,975 685.5,983.4 738,987.8 790.5,988.4 843,988.8 895.5,989 948,989 1000.5,989 1053,989 1105.5,989 1158,989 1210.5,988.5 1263,978.1 1315.5,971.4 1368,981.4 1420.5,987.8 1473,988.5 1525.5,988.9 1578,989 1630.5,989.2 1683,989.4 1735.5,989.2 1788,988.9 1840.5,981.4"/>
<polyline stroke="#1f77b4" points="318,903.7 370.5,879.9 423,892.7 475.5,910.1 528,934.8 580.5,953.1 633,967.7 685.5,976.8 738,982.7 790.5,982.7 843,975.6 895.5,978.1 948,984.9 1000.5,986 1053,987 1105.5,987.7 1158,988.3 1210.5,988.7 1263,988.9 1315.5,987.9 1368,985.7 1420.5,978.7 1473,974.3 1525.5,978.7 1578,985.7 1630.5,987.9 1683,988.9 1735.5,989.3 1788,989.6 1840.5,989.9"/>
<polyline stroke="#ff7f0e" points="318,909.2 370.5,869.3 423,883.6 475.5,911.7 528,931.8 580.5,951.2 633,965.9 685.5,975 738,980.5 790.5,980.5 843,980.5 895.5,963.5 948,957.8 1000.5,960.4 1053,972.5 1105.5,981.4 1158,985.3 1210.5,987.8 1263,988.9 1315.5,988.7 1368,988.2 1420.5,987.6 1473,986.8 1525.5,985.7 1578,981.4 1630.5,985.7 1683,988.2 1735.5,989.1 1788,989.5 1840.5,989.9"/>
<polyline stroke="#2ca02c" points="318,907.3 370.5,853.7 423,863.4 475.5,888.1 528,918.3 580.5,943.9 633,960.4 685.5,971.4 738,978.7 790.5,980.6 843,982.7 895.5,972.5 948,957.8 1000.5,955.6 1053,965.9 1105.5,974.7 1158,981.4 1210.5,985.7 1263,985.7 1315.5,985.7 1368,978.7 1420.5,971.4 1473,974.3 1525.5,981.4 1578,985.7 1630.5,987.9 1683,988.9 1735.5,989.3 1788,989.6 1840.5,989.9"/>
<polyline stroke="#9467bd" points="318,940.3 370.5,916.5 423,922 475.5,938.4 528,954.9 580.5,967.7 633,976.8 685.5,982.7 738,985.7 790.5,978.7 843,957.3 895.5,961.3 948,970.3 1000.5,978.1 1053,985.7 1105.5,986.1 1158,986.4 1210.5,978.1 1263,972.5 1315.5,980.5 1368,987.8 1420.5,988.7 1473,989 1525.5,989.3 1578,989.5 1630.5,989.7 1683,990 1735.5,990.4 1788,991 1840.5,991.5"/>
<polyline stroke="#8c564b" points="318,938.4 370.5,911.7 423,904.6 475.5,925.6 528,945.8 580.5,962.2 633,973.2 685.5,980.5 738,985.7 790.5,985.7 843,985.7 895.5,981.4 948,973.6 1000.5,978.1 1053,982.7 1105.5,986.3 1158,988.2 1210.5,989 1263,989.4 1315.5,989.4 1368,989.5 1420.5,989.5 1473,989.6 1525.5,989.6 1578,989.6 1630.5,989.7 1683,989.7 1735.5,989.8 1788,989.9 1840.5,989.9"/>
<polyline stroke="#e377c2" points="318,898.9 370.5,876.4 423,890.9 475.5,916.5 528,938.4 580.5,954.9 633,967.7 685.5,976.8 738,982.7 790.5,986 843,988 895.5,988.9 948,988.8 1000.5,988.7 1053,988.5 1105.5,988.3 1158,988.1 1210.5,987.8 1263,986.4 1315.5,986.4 1368,985.6 1420.5,984.7 1473,983.7 1525.5,970.1 1578,970.1 1630.5,975.8 1683,983.7 1735.5,987.8 1788,987.8 1840.5,987.5"/>
<polyline stroke="#7f7f7f" points="318,912.8 370.5,860.9 423,870.7 475.5,903.7 528,929.3 580.5,949.4 633,964 685.5,975 738,980.5 790.5,984.5 843,987.6 895.5,988.9 948,989 1000.5,989.1 1053,989.1 1105.5,989.2 1158,989.3 1210.5,989.3 1263,989.4 1315.5,989.1 1368,988.7 1420.5,987.6 1473,985.7 1525.5,982.7 1578,975.8 1630.5,981.4 1683,987.8 1735.5,989 1788,989.5 1840.5,989.9"/>
<polyline stroke="#bcbd22" points="318,872.2 370.5,826.8 423,852.5 475.5,890.9 528,918.3 580.5,942.1 633,958.6 685.5,971.4 738,978.7 790.5,982.7 843,987.2 895.5,988.9 948,989.1 1000.5,989.2 1053,989.4 1105.5,989.5 1158,989.6 1210.5,989.7 1263,989.9 1315.5,990.1 1368,990.3 1420.5,990.6 1473,990.8 1525.5,991.1 1578,991.3 1630.5,991.6 1683,991.8 1735.5,992.1 1788,992.4 1840.5,992.6"/>
<polyline stroke="#d62728" points="318,878.4 370.5,821.4 423,842.4 475.5,882.6 528,911.9 580.5,937.9 633,956.2 685.5,968.4 738,976.8 790.5,983.4 843,987.3 895.5,988.9 948,988.4 1000.5,987.3 1053,985.7 1105.5,981.4 1158,965.9 1210.5,963.1 1263,970.3 1315.5,980.5 1368,985.7 1420.5,987.1 1473,988 1525.5,988.7 1578,989 1630.5,989.2 1683,989.4 1735.5,989.5 1788,989.7 1840.5,989.9"/>
<polyline stroke="#d62728" points="318,889 370.5,835.4 423,856.1 475.5,890.9 528,918.3 580.5,941.2 633,957.6 685.5,969.5 738,977.8 790.5,983.4 843,987.3 895.5,988.9 948,989 1000.5,989.1 1053,989.1 1105.5,989.2 1158,989.3 1210.5,989.3 1263,989.4 1315.5,989.4 1368,989.5 1420.5,989.5 1473,989.6 1525.5,989.6 1578,989.6 1630.5,989.7 1683,989.7 1735.5,989.8 1788,989.9 1840.5,989.9"/>
<polyline stroke="#d62728" points="318,894.5 370.5,846.6 423,866.5 475.5,896.4 528,922 580.5,943.9 633,959.5 685.5,970.4 738,978.7 790.5,982.7 843,987.2 895.5,988.9 948,989 1000.5,989.1 1053,989.1 1105.5,989.2 1158,989.3 1210.5,989.3 1263,989.4 1315.5,989 1368,988 1420.5,985.5 1473,981.4 1525.5,981.4 1578,987.8 1630.5,988.8 1683,989.1 1735.5,989.4 1788,989.6 1840.5,989.9"/>
<polyline stroke="#bcbd22" points="318,944.3 370.5,920.1 423,924.5 475.5,941.4 528,956.7 580.5,970.4 633,982.7 685.5,986 738,987.8 790.5,988.8 843,989.7 895.5,990.6 948,991 1000.5,991.3 1053,991.7 1105.5,992 1158,992.3 1210.5,992.7 1263,992.9 1315.5,993.1 1368,993.2 1420.5,993.3 1473,993.4 1525.5,993.5 1578,993.6 1630.5,993.7 1683,993.8 1735.5,993.9 1788,994 1840.5,994"/>
<polyline stroke="#17becf" points="318,929.3 370.5,901.8 423,913.2 475.5,927.5 528,945.8 580.5,962.2 633,973.2 685.5,980.5 738,984.2 790.5,985.6 843,987 895.5,988.2 948,988.4 1000.5,988.5 1053,988.7 1105.5,988.8 1158,989 1210.5,989.1 1263,989.3 1315.5,989.4 1368,989.4 1420.5,989.5 1473,989.6 1525.5,989.6 1578,989.7 1630.5,989.8 1683,989.8 1735.5,989.9 1788,989.9 1840.5,990"/>
</g>
<polyline fill="none" stroke="#000" stroke-width="5.4" stroke-linejoin="round" stroke-linecap="square" points="150,994.9 223.5,994.9 227.4,990.9 232.3,991.9 236,990.3 239.1,983.7 243,986.1 244.4,978.3 248.9,970.4 252.8,969.5 256.7,966.5 265.5,968.1 273.3,970.4 276.2,965 280.1,972.4 290.9,977.9 293.8,959.7 295.7,956.8 298.7,909.9 301.6,906 305.5,861.1 307.5,835.7 311.4,816.1 314.9,764.4 318.2,762.4 321.7,757.6 325,756.6 327,765.3 331.9,812.2 336.8,814.2 340.7,792.7 350.4,768.3 355.3,777.1 361.2,794.7 367,824 372.9,851.3 380.7,880.6 388.5,902.1 396.3,913.8 406.1,922.6 415.9,939.2 425.6,950.9 435.4,962.6 447.1,969.5 457.3,974.4 474.6,979.6 491.9,982.2 516.1,984.8 533.4,986.6 595.7,989.2 682.3,990.9 780,992.1 800,992.7 808.5,992.7 812.2,989.4 814.7,992.2 826.9,991.9 831.8,988.2 834.8,987.6 836.6,972.9 838.5,966.2 842.1,965.6 846.4,971.7 853.7,974.2 863.5,980.3 870.8,985.2 878.9,987.6 880.6,959.5 881.3,959 882.2,981.7 886.1,980.3 889.2,969 894,969.9 897.7,968.7 903.8,972.9 916,978.4 927,982.7 933.7,984.5 936.2,979.7 938,983.3 946.6,986.4 958.8,987.4 971,987.6 974.7,985.2 978.3,984.5 981.7,987 983.5,957.3 984.2,956.8 985,972.9 993,972.9 996.6,969.3 1001.5,971.7 1007.6,971.7 1017.4,977.8 1026,979.7 1036.9,984.5 1037.3,986.4 1054.4,988.2 1078.9,990 1115.5,991.5 1152.1,992.2 1201,992.7 1259.6,993.3 1260,993.5 1271,992.7 1274.7,991.3 1280.2,993.5 1282,996.1 1284.4,993.5 1303.4,992.5 1304.6,980.9 1306.4,981.5 1308.2,988.8 1311.3,988.2 1315,990 1329.6,990 1331.5,979 1333.9,979 1335.7,985.8 1338.8,982.7 1340.6,975.4 1343.7,973.6 1346.7,976.6 1350.4,979.7 1357.7,977.2 1361.4,976 1366.3,977.8 1382.1,983.3 1394.4,986.4 1406.6,988.6 1418.8,990 1433.4,990.7 1436.5,989.1 1439.5,990.7 1455.4,991.9 1456.9,984.5 1458.5,983.9 1460.3,987 1462.7,986.4 1467.6,989.4 1477.4,990 1481.1,988.6 1484.7,990 1489.6,990.2 1490,990.2 1497.3,989.6 1526.6,991 1568.4,992.6 1568.8,935.4 1569.3,935.4 1569.6,955.6 1574.3,958.4 1579.2,964.5 1581.6,971.3 1586.5,976.1 1591.4,974.9 1602.4,979.8 1609.7,984.7 1615.8,986.9 1623.1,985.9 1636.6,988.4 1648.8,991 1673.2,991.4 1697.6,992.6 1730,992.6 1760,993.7 1800,994.6 1960,994.9"/>
<g stroke="#808080" stroke-dasharray="17.7 7.65" stroke-dashoffset="-1">
<line x1="200.9" x2="200.9" y1="1011.10" y2="697.70" stroke-width="4.1"/>
<line x1="333.4" x2="333.4" y1="1011.10" y2="697.70" stroke-width="5.2"/>
<line x1="385" x2="385" y1="1011.10" y2="697.70" stroke-width="4.1"/>
<line x1="516" x2="516" y1="1011.10" y2="697.70" stroke-width="4.5"/>
<line x1="700.2" x2="700.2" y1="1011.10" y2="697.70" stroke-width="5.3"/>
<line x1="964" x2="964" y1="1011.10" y2="697.70" stroke-width="4.1"/>
</g>
</g>
<rect x="161.5" y="697.70" width="1784.5" height="313.40" fill="none" stroke="#000" stroke-width="2.55"/>
<g stroke="#000" stroke-width="2.55">
<line x1="150.3" x2="161.5" y1="998.80" y2="998.80"/>
<line x1="150.3" x2="161.5" y1="907.33" y2="907.33"/>
<line x1="150.3" x2="161.5" y1="815.87" y2="815.87"/>
<line x1="150.3" x2="161.5" y1="724.40" y2="724.40"/>
</g>
<g font-size="31.9" text-anchor="end">
<text transform="translate(138.3 1012.50) scale(0.982 1.065)">0</text>
<text transform="translate(138.3 921.03) scale(0.982 1.065)">50</text>
<text transform="translate(138.3 829.57) scale(0.982 1.065)">100</text>
<text transform="translate(138.3 738.11) scale(0.982 1.065)">150</text>
</g>
<text font-size="38.25" text-anchor="middle" transform="translate(57.6 858.70) rotate(-90)">2021-07-14</text>
<g clip-path="url(#cp3)">
<g stroke="#b0b0b0" stroke-width="3">
<line x1="161.5" x2="1946" y1="1312.20" y2="1312.20"/>
<line x1="161.5" x2="1946" y1="1220.74" y2="1220.74"/>
<line x1="161.5" x2="1946" y1="1129.27" y2="1129.27"/>
<line x1="161.5" x2="1946" y1="1037.81" y2="1037.81"/>
</g>
<g fill="none" stroke-width="6.3" stroke-linejoin="round" stroke-linecap="square">
<polyline stroke="#8c564b" points="685.5,1290.6 738,1293.9 790.5,1290.6 843,1283.8 895.5,1288.4 948,1299.1 1000.5,1302.3 1053,1302.5 1105.5,1302.7 1158,1302.9 1210.5,1303.1 1263,1303.3 1315.5,1303.5 1368,1303.6 1420.5,1303.7 1473,1303.8 1525.5,1303.9 1578,1304.1 1630.5,1304.2 1683,1304.3 1735.5,1304.5 1788,1304.6 1840.5,1304.8 1893,1304.9"/>
<polyline stroke="#e377c2" points="370.5,1205 423,1227.7 475.5,1255.5 528,1271.4 580.5,1286 633,1296.8 685.5,1301.9 738,1302.5 790.5,1302.6 843,1302.7 895.5,1302.8 948,1302.8 1000.5,1302.9 1053,1302.9 1105.5,1302.9 1158,1302.9 1210.5,1303 1263,1303 1315.5,1303 1368,1303.1 1420.5,1303.1 1473,1303.1 1525.5,1303.1 1578,1303.1 1630.5,1303.1 1683,1303.2 1735.5,1303.2 1788,1303.3 1840.5,1303.3 1893,1303.3"/>
<polyline stroke="#1f77b4" points="370.5,1198.8 423,1211.6 475.5,1237.2 528,1259.2 580.5,1275.6 633,1288.4 685.5,1296.1 738,1301.2 790.5,1301.7 843,1302.1 895.5,1302.3 948,1300.6 1000.5,1296.1 1053,1283.8 1105.5,1287.5 1158,1293 1210.5,1299.1 1263,1302.3 1315.5,1302.4 1368,1302.5 1420.5,1302.6 1473,1302.7 1525.5,1302.7 1578,1302.8 1630.5,1302.9 1683,1303 1735.5,1303 1788,1303.1 1840.5,1303.2 1893,1303.3"/>
<polyline stroke="#7f7f7f" points="370.5,1192.7 423,1206.1 475.5,1231.2 528,1253.7 580.5,1272 633,1284.8 685.5,1293 738,1299.1 790.5,1300.7 843,1301.8 895.5,1302.3 948,1302.4 1000.5,1302.5 1053,1302.5 1105.5,1302.6 1158,1302.7 1210.5,1302.7 1263,1302.8 1315.5,1302.6 1368,1302.4 1420.5,1302 1473,1301.2 1525.5,1292.1 1578,1285.9 1630.5,1290.8 1683,1299.8 1735.5,1301.9 1788,1302.1 1840.5,1302.2 1893,1302.3"/>
<polyline stroke="#7f7f7f" points="370.5,1204.6 423,1226.6 475.5,1254.6 528,1270.5 580.5,1285.3 633,1296.1 685.5,1301.2 738,1302.3 790.5,1302.5 843,1302.6 895.5,1302.8 948,1302.8 1000.5,1302.9 1053,1302.9 1105.5,1302.9 1158,1302.9 1210.5,1303 1263,1303 1315.5,1303 1368,1303.1 1420.5,1303.1 1473,1303.1 1525.5,1303.1 1578,1303.1 1630.5,1303.1 1683,1303.2 1735.5,1303.2 1788,1303.3 1840.5,1303.3 1893,1303.3"/>
<polyline stroke="#bcbd22" points="370.5,1200.6 423,1216.2 475.5,1242.7 528,1263.7 580.5,1280.2 633,1291.2 685.5,1299.1 738,1301.9 790.5,1301.8 843,1301.6 895.5,1301.4 948,1301.2"/>
<polyline stroke="#1f77b4" points="370.5,1197 423,1208.8 475.5,1235.4 528,1258.2 580.5,1275.6 633,1287.5 685.5,1294.8 738,1293.9 790.5,1282.9 843,1270.5 895.5,1276.3 948,1285.9 1000.5,1288.4 1053,1283.8 1105.5,1278.4 1158,1281.5 1210.5,1289.3 1263,1292.4 1315.5,1293.9 1368,1288.4 1420.5,1282 1473,1276 1525.5,1284.8 1578,1289.5 1630.5,1296.1 1683,1297.5 1735.5,1298.7 1788,1299.7 1840.5,1300.5 1893,1301.2"/>
<polyline stroke="#ff7f0e" points="370.5,1192.4 423,1205 475.5,1230.6 528,1253.3 580.5,1271 633,1283.8 685.5,1293 738,1299.1 790.5,1297.3 843,1295.2 895.5,1293.9 948,1293.9 1000.5,1292.4 1053,1299.1 1105.5,1300.4 1158,1301.3 1210.5,1302 1263,1302.3 1315.5,1302.1 1368,1301.6 1420.5,1301 1473,1300.2 1525.5,1299.1 1578,1293.9 1630.5,1296.1 1683,1301.2 1735.5,1302.3 1788,1302.7 1840.5,1303 1893,1303.3"/>
<polyline stroke="#2ca02c" points="370.5,1200.6 423,1213.4 475.5,1239 528,1261 580.5,1277.4 633,1289.3 685.5,1297.7 738,1301.2 790.5,1301.2 843,1301.2 895.5,1301.2 948,1301.4 1000.5,1301.7 1053,1301.8 1105.5,1302 1158,1302.2 1210.5,1302.3 1263,1302.3"/>
<polyline stroke="#d62728" points="370.5,1193.3 423,1206.1 475.5,1232.3 528,1254.4 580.5,1272.9 633,1285.7 685.5,1293 738,1290.6 790.5,1287.3 843,1292.1 895.5,1296.1 948,1297.7 1000.5,1299.2 1053,1300.3 1105.5,1301.2"/>
<polyline stroke="#d62728" points="1368,1301.2 1420.5,1301.8 1473,1302.2 1525.5,1302.4 1578,1302.5 1630.5,1302.7 1683,1302.8 1735.5,1302.9 1788,1303 1840.5,1303.1 1893,1303.3"/>
<polyline stroke="#9467bd" points="370.5,1198.8 423,1214.7 475.5,1240.9 528,1261 580.5,1277.4 633,1288.4 685.5,1296.1 738,1299.1 790.5,1296.1 843,1293 895.5,1288.8 948,1293.9 1000.5,1294.3 1053,1296.1 1105.5,1296.1 1158,1292.1 1210.5,1286.6 1263,1279.6 1315.5,1285.1 1368,1291.2 1420.5,1296.1 1473,1296.9 1525.5,1297.7 1578,1298.4 1630.5,1299 1683,1299.5 1735.5,1300 1788,1300.5 1840.5,1300.9 1893,1301.2"/>
<polyline stroke="#bcbd22" points="370.5,1199.1 423,1215.4 475.5,1241.8 528,1261.9 580.5,1279.3 633,1290.2 685.5,1297.7 738,1301.2 790.5,1301.2 843,1301.2 895.5,1296.8 948,1287.5 1000.5,1282 1053,1278.4 1105.5,1285.1 1158,1291.2 1210.5,1299.1 1263,1302.3 1315.5,1302.5 1368,1302.7 1420.5,1302.9 1473,1303 1525.5,1303.1 1578,1303.1 1630.5,1303.3 1683,1303.4 1735.5,1303.5 1788,1303.7 1840.5,1303.8 1893,1304"/>
<polyline stroke="#e377c2" points="370.5,1195.1 423,1209.8 475.5,1235.6 528,1257.3 580.5,1274.2 633,1287.5 685.5,1294.8 738,1299.1 790.5,1299.5 843,1299.9 895.5,1300.3 948,1300.3 1000.5,1300.3 1053,1299.1 1105.5,1301.9 1158,1301.7 1210.5,1301.5 1263,1301.2 1315.5,1297.7 1368,1292.4 1420.5,1294.3 1473,1293.9 1525.5,1279.3 1578,1279.8 1630.5,1284.8 1683,1293.2 1735.5,1300.3 1788,1299.4 1840.5,1298.3 1893,1296.1"/>
<polyline stroke="#e377c2" points="370.5,1196.2 423,1211.6 475.5,1239 528,1259.5 580.5,1276 633,1288.4 685.5,1296.1 738,1301.2 790.5,1301.7 843,1302.1 895.5,1302.3 948,1302.4 1000.5,1302.5 1053,1302.5 1105.5,1302.6 1158,1302.7 1210.5,1302.7 1263,1302.8 1315.5,1302.8 1368,1302.8 1420.5,1302.8 1473,1302.9 1525.5,1302.9 1578,1302.9 1630.5,1302.9 1683,1302.9 1735.5,1302.9 1788,1303 1840.5,1303 1893,1303"/>
<polyline stroke="#17becf" points="370.5,1189.1 423,1200.2 475.5,1224.8 528,1250 580.5,1269.2 633,1282.9 685.5,1292.1 738,1299.1 790.5,1300.7 843,1301.8 895.5,1302.3 948,1296.1 1000.5,1288.4 1053,1283.3 1105.5,1286.4 1158,1291.2 1210.5,1296.1 1263,1301.2 1315.5,1302.3 1368,1302.4 1420.5,1302.4 1473,1302.5 1525.5,1302.5 1578,1302.4 1630.5,1302.3 1683,1302 1735.5,1284.8 1788,1272 1840.5,1281.1 1893,1291.3"/>
<polyline stroke="#17becf" points="370.5,1201.5 423,1219.1 475.5,1246.3 528,1264.6 580.5,1281.1 633,1291.2 685.5,1298.6 738,1301.2 790.5,1301.8 843,1302.1 895.5,1302.3 948,1302.4 1000.5,1302.5 1053,1302.7 1105.5,1302.6 1158,1302.5 1210.5,1299.1 1263,1292.4 1315.5,1289.3 1368,1287.5 1420.5,1285.1 1473,1292.1 1525.5,1299.1 1578,1301.9 1630.5,1302.1 1683,1302.2 1735.5,1302.3 1788,1302.4 1840.5,1302.5 1893,1302.5"/>
<polyline stroke="#2ca02c" points="1263,1302.3 1315.5,1299.1 1368,1291.2 1420.5,1285.1 1473,1290.2 1525.5,1295 1578,1299.8 1630.5,1302.3 1683,1302.5 1735.5,1302.7 1788,1302.9 1840.5,1303.1 1893,1303.3"/>
<polyline stroke="#d62728" points="1105.5,1301.2 1158,1299.4 1210.5,1293.4 1263,1298.6 1315.5,1297.4 1368,1301.2"/>
<polyline stroke="#8c564b" points="370.5,1178.7 423,1185.2 475.5,1221.1 528,1247.3 580.5,1265.9 633,1279.5 685.5,1290.6"/>
<polyline stroke="#bcbd22" points="948,1301.2 1000.5,1293.9 1053,1290.2 1105.5,1296.8 1158,1302 1210.5,1302.5 1263,1302.8 1315.5,1302.9 1368,1302.9 1420.5,1303 1473,1304 1525.5,1304.1 1578,1304.2 1630.5,1304.3 1683,1304.4 1735.5,1304.6 1788,1304.7 1840.5,1304.8 1893,1304.9"/>
<polyline stroke="#17becf" points="370.5,1202.8 423,1222.9 475.5,1251.5 528,1268.7 580.5,1284.2 633,1293.4 685.5,1299 738,1300.5 790.5,1300.9 843,1301.5 895.5,1302.1 948,1302.6 1000.5,1303 1053,1303.4 1105.5,1303.3 1158,1303.2 1210.5,1303.1 1263,1303.1 1315.5,1303.1 1368,1303.1 1420.5,1303.1 1473,1303.1 1525.5,1303.1 1578,1303.1 1630.5,1303.1 1683,1303.1 1735.5,1303.1 1788,1303.1 1840.5,1303.1 1893,1303.1"/>
</g>
<polyline fill="none" stroke="#000" stroke-width="5.4" stroke-linejoin="round" stroke-linecap="square" points="150,1308.3 223.5,1308.3 227.4,1304.3 232.3,1305.3 236,1303.7 239.1,1297.1 243,1299.5 244.4,1291.7 248.9,1283.8 252.8,1282.9 256.7,1279.9 265.5,1281.5 273.3,1283.8 276.2,1278.4 280.1,1285.8 290.9,1291.3 293.8,1273.1 295.7,1270.2 298.7,1223.3 301.6,1219.4 305.5,1174.5 307.5,1149.1 311.4,1129.5 314.9,1077.8 318.2,1075.8 321.7,1071 325,1070 327,1078.7 331.9,1125.6 336.8,1127.6 340.7,1106.1 350.4,1081.7 355.3,1090.5 361.2,1108.1 367,1137.4 372.9,1164.7 380.7,1194 388.5,1215.5 396.3,1227.2 406.1,1236 415.9,1252.6 425.6,1264.3 435.4,1276 447.1,1282.9 457.3,1287.8 474.6,1293 491.9,1295.6 516.1,1298.2 533.4,1300 595.7,1302.6 682.3,1304.3 780,1305.5 800,1306.1 808.5,1306.1 812.2,1302.8 814.7,1305.6 826.9,1305.3 831.8,1301.6 834.8,1301 836.6,1286.3 838.5,1279.6 842.1,1279 846.4,1285.1 853.7,1287.6 863.5,1293.7 870.8,1298.6 878.9,1301 880.6,1272.9 881.3,1272.4 882.2,1295.1 886.1,1293.7 889.2,1282.4 894,1283.3 897.7,1282.1 903.8,1286.3 916,1291.8 927,1296.1 933.7,1297.9 936.2,1293.1 938,1296.7 946.6,1299.8 958.8,1300.8 971,1301 974.7,1298.6 978.3,1297.9 981.7,1300.4 983.5,1270.7 984.2,1270.2 985,1286.3 993,1286.3 996.6,1282.7 1001.5,1285.1 1007.6,1285.1 1017.4,1291.2 1026,1293.1 1036.9,1297.9 1037.3,1299.8 1054.4,1301.6 1078.9,1303.4 1115.5,1304.9 1152.1,1305.6 1201,1306.1 1259.6,1306.7 1260,1306.9 1271,1306.1 1274.7,1304.7 1280.2,1306.9 1282,1309.5 1284.4,1306.9 1303.4,1305.9 1304.6,1294.3 1306.4,1294.9 1308.2,1302.2 1311.3,1301.6 1315,1303.4 1329.6,1303.4 1331.5,1292.4 1333.9,1292.4 1335.7,1299.2 1338.8,1296.1 1340.6,1288.8 1343.7,1287 1346.7,1290 1350.4,1293.1 1357.7,1290.6 1361.4,1289.4 1366.3,1291.2 1382.1,1296.7 1394.4,1299.8 1406.6,1302 1418.8,1303.4 1433.4,1304.1 1436.5,1302.5 1439.5,1304.1 1455.4,1305.3 1456.9,1297.9 1458.5,1297.3 1460.3,1300.4 1462.7,1299.8 1467.6,1302.8 1477.4,1303.4 1481.1,1302 1484.7,1303.4 1489.6,1303.6 1490,1303.6 1497.3,1303 1526.6,1304.4 1568.4,1306 1568.8,1248.8 1569.3,1248.8 1569.6,1269 1574.3,1271.8 1579.2,1277.9 1581.6,1284.7 1586.5,1289.5 1591.4,1288.3 1602.4,1293.2 1609.7,1298.1 1615.8,1300.3 1623.1,1299.3 1636.6,1301.8 1648.8,1304.4 1673.2,1304.8 1697.6,1306 1730,1306 1760,1307.1 1800,1308 1960,1308.3"/>
<g stroke="#808080" stroke-dasharray="17.7 7.65" stroke-dashoffset="-1">
<line x1="200.9" x2="200.9" y1="1324.50" y2="1011.10" stroke-width="4.1"/>
<line x1="333.4" x2="333.4" y1="1324.50" y2="1011.10" stroke-width="5.2"/>
<line x1="385" x2="385" y1="1324.50" y2="1011.10" stroke-width="4.1"/>
<line x1="516" x2="516" y1="1324.50" y2="1011.10" stroke-width="4.5"/>
<line x1="700.2" x2="700.2" y1="1324.50" y2="1011.10" stroke-width="5.3"/>
<line x1="964" x2="964" y1="1324.50" y2="1011.10" stroke-width="4.1"/>
</g>
</g>
<rect x="161.5" y="1011.10" width="1784.5" height="313.40" fill="none" stroke="#000" stroke-width="2.55"/>
<g stroke="#000" stroke-width="2.55">
<line x1="150.3" x2="161.5" y1="1312.20" y2="1312.20"/>
<line x1="150.3" x2="161.5" y1="1220.74" y2="1220.74"/>
<line x1="150.3" x2="161.5" y1="1129.27" y2="1129.27"/>
<line x1="150.3" x2="161.5" y1="1037.81" y2="1037.81"/>
</g>
<g font-size="31.9" text-anchor="end">
<text transform="translate(138.3 1325.90) scale(0.982 1.065)">0</text>
<text transform="translate(138.3 1234.44) scale(0.982 1.065)">50</text>
<text transform="translate(138.3 1142.97) scale(0.982 1.065)">100</text>
<text transform="translate(138.3 1051.51) scale(0.982 1.065)">150</text>
</g>
<text font-size="38.25" text-anchor="middle" transform="translate(57.6 1172.10) rotate(-90)">2021-07-15</text>
<g stroke="#000" stroke-width="2.55">
<line x1="213" x2="213" y1="1324.50" y2="1335.70"/>
<line x1="423" x2="423" y1="1324.50" y2="1335.70"/>
<line x1="633" x2="633" y1="1324.50" y2="1335.70"/>
<line x1="843" x2="843" y1="1324.50" y2="1335.70"/>
<line x1="1053" x2="1053" y1="1324.50" y2="1335.70"/>
<line x1="1210.5" x2="1210.5" y1="1324.50" y2="1335.70"/>
<line x1="1420.5" x2="1420.5" y1="1324.50" y2="1335.70"/>
<line x1="1630.5" x2="1630.5" y1="1324.50" y2="1335.70"/>
<line x1="1840.5" x2="1840.5" y1="1324.50" y2="1335.70"/>
</g>
<g font-size="31.9" text-anchor="end">
<text transform="translate(208 1370.50) rotate(-30)">2021-07-13</text>
<text transform="translate(418 1370.50) rotate(-30)">2021-07-17</text>
<text transform="translate(628 1370.50) rotate(-30)">2021-07-21</text>
<text transform="translate(838 1370.50) rotate(-30)">2021-07-25</text>
<text transform="translate(1048 1370.50) rotate(-30)">2021-07-29</text>
<text transform="translate(1205.5 1370.50) rotate(-30)">2021-08-01</text>
<text transform="translate(1415.5 1370.50) rotate(-30)">2021-08-05</text>
<text transform="translate(1625.5 1370.50) rotate(-30)">2021-08-09</text>
<text transform="translate(1835.5 1370.50) rotate(-30)">2021-08-13</text>
</g>
<text x="1052.2" y="52.5" font-size="51.3" text-anchor="middle">GloFAS mean discharge in the last 24 hr at [49.65, 6.15]</text>
<rect x="1374.6" y="93.4" width="549" height="145" rx="6.4" ry="6.4" fill="#fff" fill-opacity="0.8" stroke="#ccc" stroke-opacity="0.8" stroke-width="2.9"/>
<line x1="1391.5" x2="1480.7" y1="129.5" y2="129.5" stroke="#000" stroke-width="4.78" stroke-linecap="square"/>
<line x1="1391.5" x2="1480.7" y1="195.2" y2="195.2" stroke="#808080" stroke-width="4.78" stroke-dasharray="17.7 7.65"/>
<text x="1516.5" y="146" font-size="44.6">Observed Q</text>
<text x="1516.5" y="211.6" font-size="44.6">S1 overpass time</text>
</svg>
</body></html>
